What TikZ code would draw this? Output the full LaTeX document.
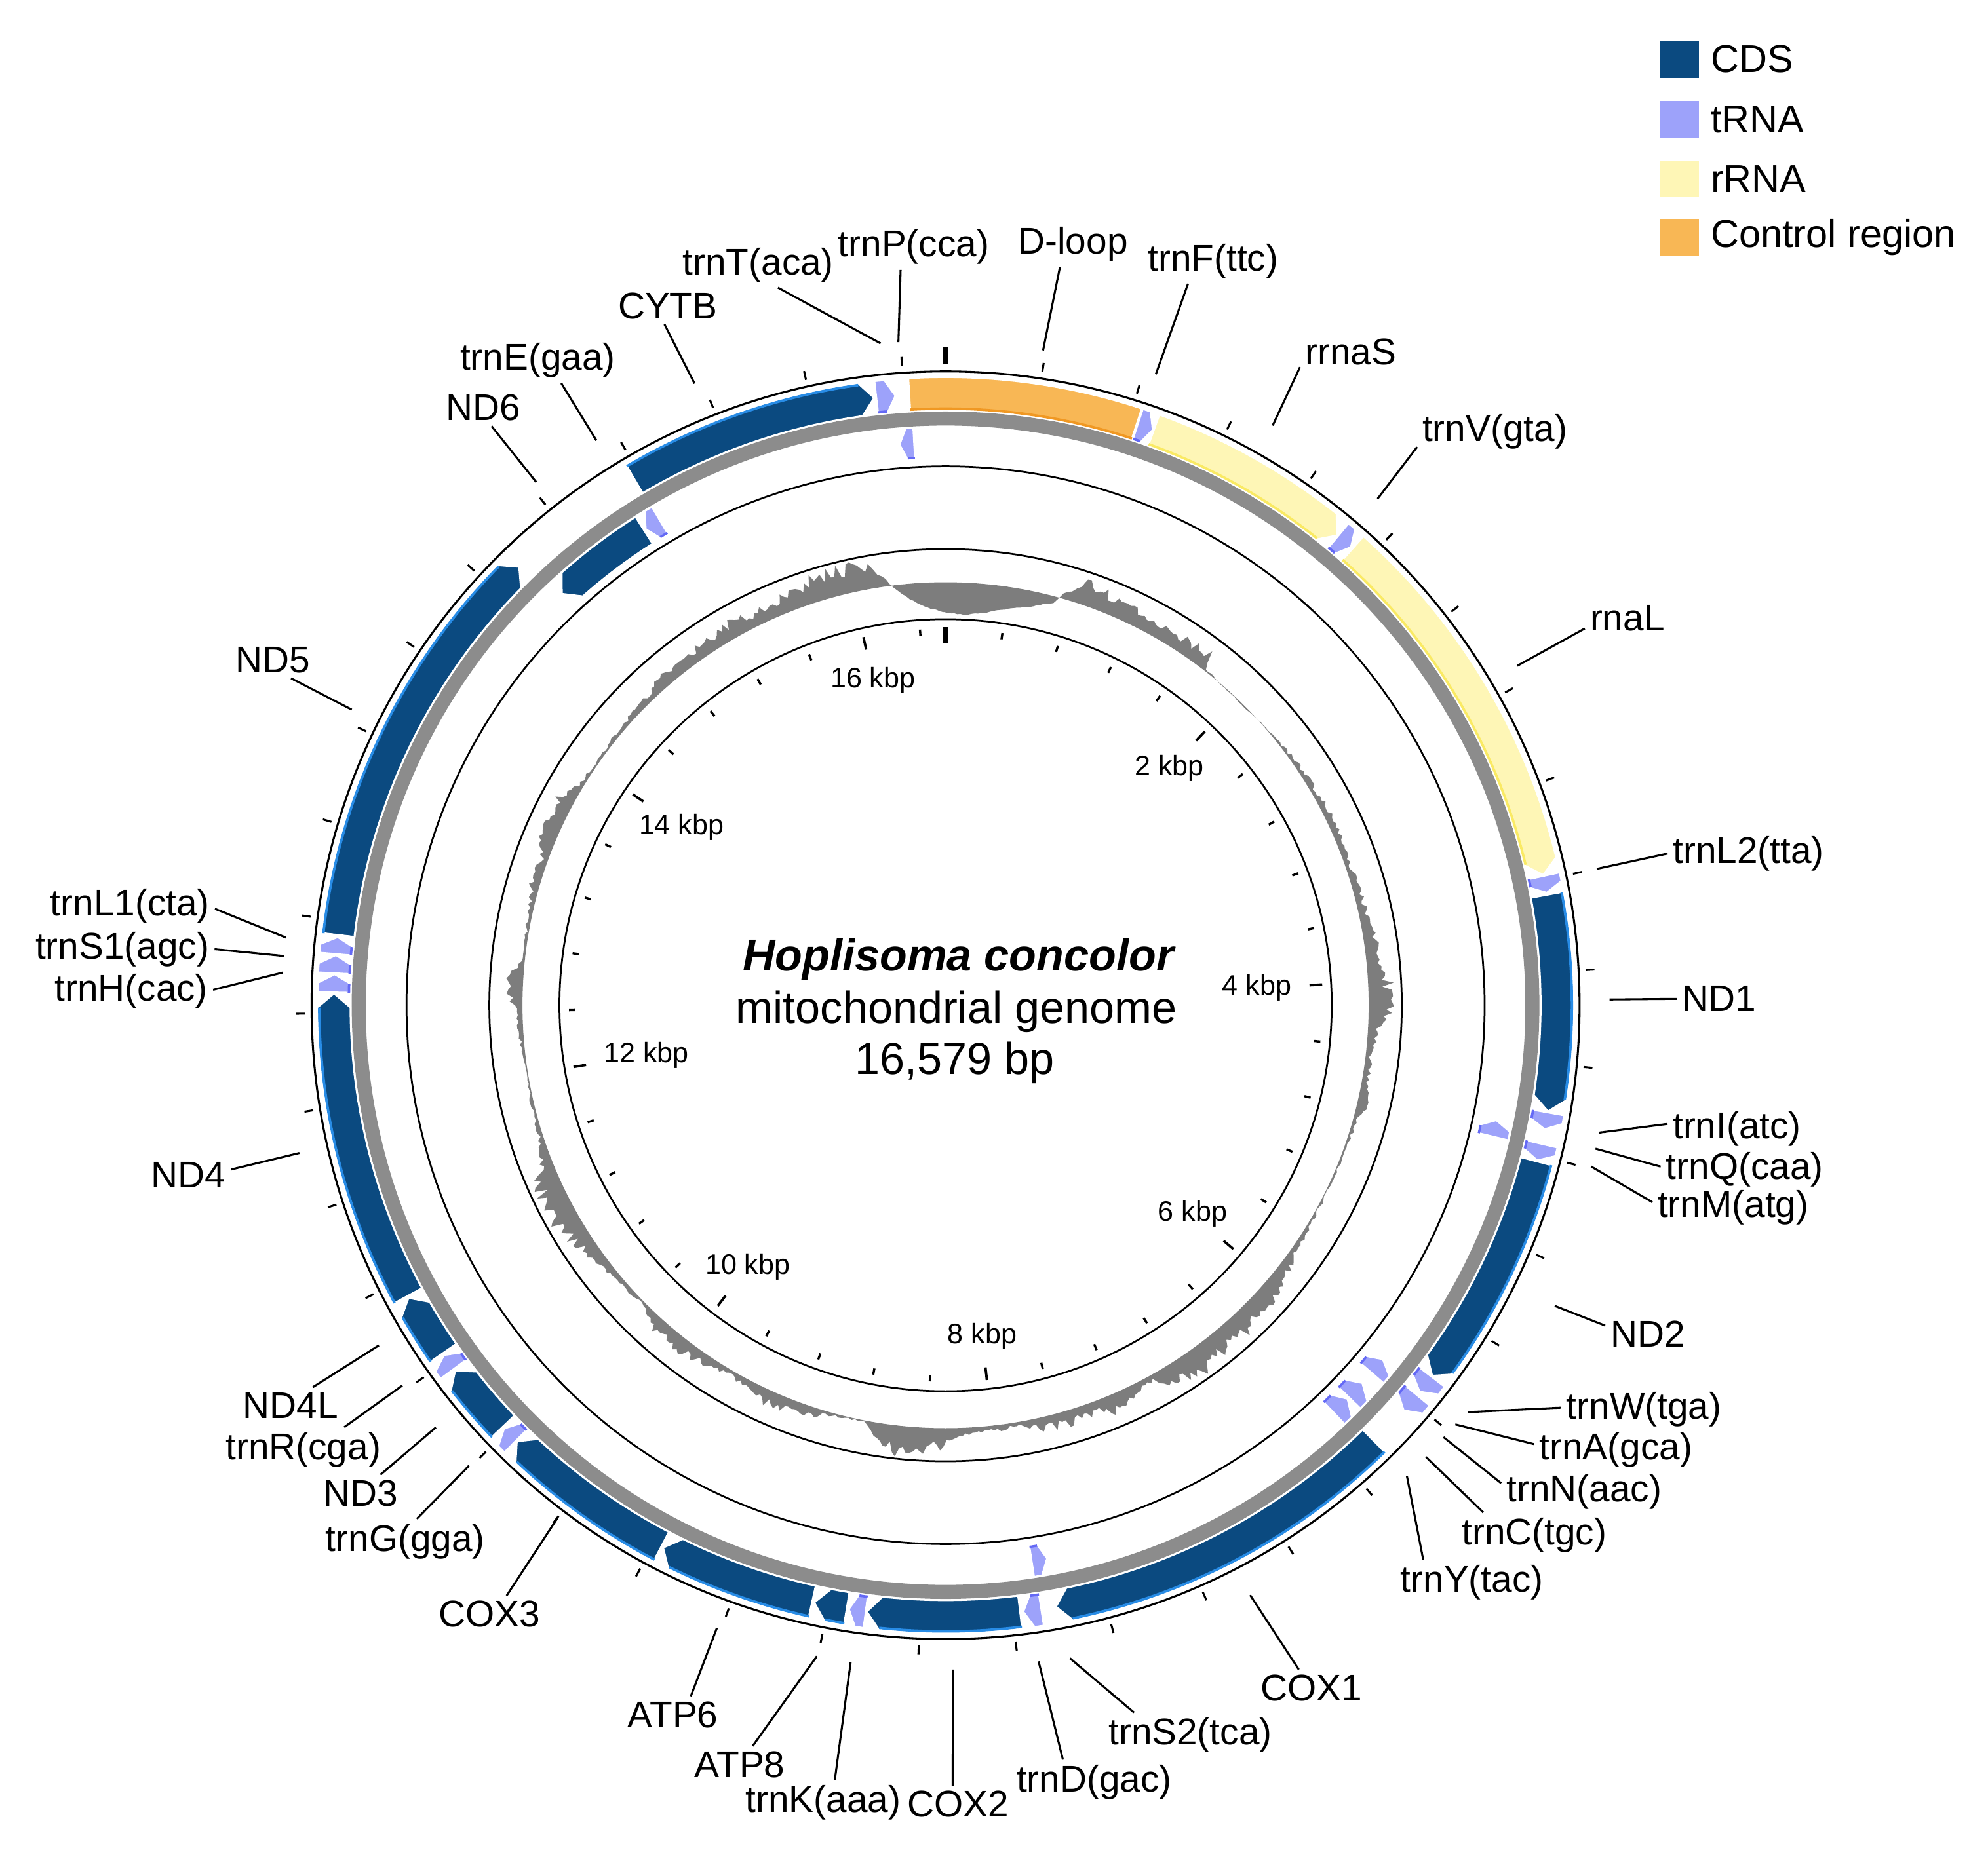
\documentclass[tikz,border=0pt]{standalone}
\usepackage{fontspec}
\setmainfont{Liberation Sans}
\usepackage{xcolor}
\usepackage{tikz}
\usetikzlibrary{positioning}
\definecolor{cds}{RGB}{11,74,128}
\definecolor{cdsedge}{RGB}{40,140,230}
\definecolor{trna}{RGB}{157,162,250}
\definecolor{trnaedge}{RGB}{100,105,245}
\definecolor{rrna}{RGB}{254,246,182}
\definecolor{rrnaedge}{RGB}{250,234,100}
\definecolor{ctrl}{RGB}{248,183,85}
\definecolor{ctrledge}{RGB}{240,152,35}
\definecolor{ring}{RGB}{140,140,140}
\definecolor{gc}{RGB}{125,125,125}

\def\cdsname{cds}
\newcommand{\genearrow}[4]{%
  \edef\thiscol{#1}%
  \edef\edgecol{#1edge}%
  \ifnum#4<0 \def\rin{429}\def\rout{454}\else\def\rin{467}\def\rout{493}\fi
  \pgfmathsetmacro\rmid{(\rin+\rout)/2}%
  \pgfmathsetmacro\hd{(#4==0) ? 0 : min(deg(11/\rmid),0.5*((#3)-(#2)))}%
  \ifnum#4<0
    \pgfmathsetmacro\aT{90-(#2)}%
    \pgfmathsetmacro\aS{90-(#2)-\hd}%
    \pgfmathsetmacro\aE{90-(#3)}%
    \pgfmathsetmacro\re{\rin+1.3}%
    \fill[fill=\thiscol, draw=white, line width=0.4pt] (\aT:\rmid) -- (\aS:\rout) arc[start angle=\aS, end angle=\aE, radius=\rout] -- (\aE:\rin) arc[start angle=\aE, end angle=\aS, radius=\rin] -- cycle;
    \ifx\thiscol\cdsname\else
      \draw[color=\edgecol, line width=0.5pt] (\aS:\re) arc[start angle=\aS, end angle=\aE, radius=\re];
    \fi
  \else
    \pgfmathsetmacro\aS{90-(#2)}%
    \pgfmathsetmacro\aB{90-(#3)+\hd}%
    \pgfmathsetmacro\aE{90-(#3)}%
    \fill[fill=\thiscol, draw=white, line width=0.4pt] (\aS:\rout) arc[start angle=\aS, end angle=\aB, radius=\rout] -- (\aE:\rmid) -- (\aB:\rin) arc[start angle=\aB, end angle=\aS, radius=\rin] -- cycle;
    \ifx\thiscol\cdsname
      \pgfmathsetmacro\re{\rout-1.5}%
    \else
      \pgfmathsetmacro\re{\rin+1.3}%
    \fi
    \draw[color=\edgecol, line width=0.55pt] (\aS:\re) arc[start angle=\aS, end angle=\aB, radius=\re];
  \fi
}

\begin{document}
\begin{tikzpicture}[x=0.01cm, y=0.01cm,
  lbl/.style={font=\fontsize{8.3}{10}\selectfont, inner sep=1pt},
  kbp/.style={font=\fontsize{6.3}{7.5}\selectfont, inner sep=1pt},
  leader/.style={line width=0.45pt},
  legbox/.style={minimum width=0.3cm, minimum height=0.29cm, inner sep=0pt},
  legtext/.style={font=\fontsize{8.7}{10}\selectfont, inner sep=0pt}]

\useasboundingbox (-742,-671.7) rectangle (818,789);

% rings
\draw[line width=0.45pt] (0,0) circle[radius=497.5];
\draw[ring, line width=3.13pt] (0,0) circle[radius=460.5];
\draw[line width=0.4pt] (0,0) circle[radius=423];
\draw[line width=0.4pt] (0,0) circle[radius=358];
\draw[line width=0.4pt] (0,0) circle[radius=303];

% GC content
\pgfmathsetseed{11}
\gdef\gcpath{}
\foreach \p/\v [remember=\p as \pp (initially 0), remember=\v as \vv (initially -24)] in {
  0/-24, 3/-25, 6/-22, 9/-17, 12/-12, 15/-5, 16/4, 17.5/14, 19/21, 21/15, 24/13, 28/11,
  32/10, 35/12, 37/13, 37.8/2, 40/0, 45/-1, 50/1, 55/3, 60/4, 65/6, 70/4, 75/6, 80/7,
  84/12, 88/16, 91/15, 94/6, 97/4, 100/5, 103/8, 106/3, 110/2, 115/1, 120/2, 125/4,
  128/9, 132/14, 136/15, 140/16, 145/18, 149/15, 151/5, 154/7, 157/13, 160/8, 163/10,
  167/9, 170/2, 173/4, 176/3, 179/8, 182/17, 186/21, 189/12, 191/1, 195/2, 200/8,
  205/10, 210/4, 213/6, 218/11, 222/9, 226/2, 230/4, 234/8, 238/15, 242/20, 246/17,
  249/8, 252/3, 258/2, 262/1, 266/3, 270/6, 272/12, 274/10, 276/2, 280/2, 285/5,
  288/9, 290/5, 293/12, 296/14, 299/11, 301/3, 305/2, 310/3, 315/4, 318/8, 322/10,
  326/9, 330/12, 334/10, 338/12, 341/16, 345/19, 349/18, 351/15, 352.5/1, 353.5/-5,
  355/-12, 357/-19, 360/-24}{
  \pgfmathtruncatemacro\n{max(1,round(((\p)-(\pp))/0.45))}
  \foreach \k in {1,...,\n}{
    \pgfmathsetmacro\ang{90-((\pp)+((\p)-(\pp))*\k/\n)}
    \pgfmathsetmacro\amp{(\vv)+((\v)-(\vv))*\k/\n}
    \pgfmathsetmacro\rr{332+(\amp)+(rnd-0.5)*((\amp>0) ? (0.6*\amp+1) : 0.8)}
    \xdef\gcpath{\gcpath -- (\ang:\rr)}
  }
}
\fill[gc, even odd rule] (90:308) \gcpath -- cycle (0,0) circle[radius=332];

% ticks
\foreach \k in {1,...,41}{
  \pgfmathsetmacro\a{90-\k*0.4/16.579*360}
  \pgfmathtruncatemacro\m{mod(\k,5)}
  \draw[line width=0.45pt] (\a:503) -- (\a:510);
  \ifnum\m=0
    \draw[line width=0.55pt] (\a:286) -- (\a:296);
  \else
    \draw[line width=0.5pt] (\a:290.5) -- (\a:295.5);
  \fi
}
\draw[line width=1.1pt] (90:503) -- (90:517);
\draw[line width=1.1pt] (90:284) -- (90:297);
\foreach \kb in {2,4,...,16}{
  \pgfmathsetmacro\a{90-\kb/16.579*360}
  \pgfmathsetmacro\b{mod(\a+360,360)}
  \node[kbp, anchor=\b] (kb\kb) at (\a:276) {\kb\ kbp};
}

% genes
\foreach \col/\s/\e/\d in {
  ctrl/-3.4/18.2/0, trna/18.3/19.8/1, rrna/19.9/39.8/1, trna/39.9/41.5/1,
  rrna/41.7/77.7/1, trna/77.8/79.4/1, cds/79.6/100.0/1, trna/100.1/101.7/1,
  trna/101.8/103.5/-1, trna/103.1/104.7/1, cds/104.8/127.3/1, trna/127.4/129.2/1,
  trna/129.6/131.5/1, trna/129.0/130.8/-1, trna/132.2/134.2/-1, trna/134.4/136.4/-1,
  cds/135.5/169.6/1, trna/169.6/171.2/-1, trna/171.0/172.7/1, cds/173.0/187.4/1,
  trna/187.5/189.1/1, cds/189.3/192.4/1, cds/192.6/207.5/1, cds/207.7/224.5/1,
  trna/224.6/226.2/1, cds/226.4/233.3/1, trna/233.5/235.1/1, cds/235.3/241.4/1,
  cds/241.6/271.1/1, trna/271.2/272.9/1, trna/273.0/274.7/1, trna/274.8/276.4/1,
  cds/276.6/315.8/1, cds/317.0/327.6/-1, trna/327.8/329.5/-1, cds/329.4/353.3/1,
  trna/353.5/355.3/1, trna/355.3/356.8/-1}{
  \genearrow{\col}{\s}{\e}{\d}
}

% labels
\foreach \nm/\txt/\lx/\ly/\tx/\ty/\an in {
  trnT/trnT(aca)/-147/581/-51/519.5/311,
  trnP/trnP(cca)/-25/595/-37/520.4/240,
  dloop/D-loop/100/597/76.5/514/240,
  trnF/trnF(ttc)/210/584/165/495.3/222,
  rrnaS/rrnaS/318/513/256.7/455/197,
  trnV/trnV(gta)/431/450/339/397.5/191,
  rnaL/rnaL/535/304/448.6/266.4/194,
  trnL2/trnL2(tta)/630/119/511/107/180,
  ND1/ND1/607/5/521/4.5/180,
  trnI/trnI(atc)/621/-97/513/-100/176,
  trnQ/trnQ(caa)/627/-129/510/-112.6/178,
  trnM/trnM(atg)/618/-159/506.6/-126.6/176,
  ND2/ND2/551/-258/478/-236/169,
  trnW/trnW(tga)/548/-317/410/-319.4/179,
  trnA/trnA(gca)/526/-349/400/-329/176,
  trnN/trnN(aac)/501/-382/390.7/-339/174,
  trnC/trnC(tgc)/462/-416/377/-354.6/156,
  trnY/trnY(tac)/413/-453/362/-369.5/155,
  COX1/COX1/287/-536/239/-463/124,
  trnS2/trnS2(tca)/192/-573/97.6/-512.6/158,
  trnD/trnD(gac)/116.6/-610/73/-515/144,
  COX2/COX2/10/-627/5.8/-521.5/107,
  trnK/trnK(aaa)/-96/-626/-74.5/-516/63,
  ATP8/ATP8/-161.5/-596/-101/-511/55,
  ATP6/ATP6/-214/-557/-179.5/-489/46,
  COX3/COX3/-358/-478/-304.2/-402/47,
  trnG/trnG(gga)/-424/-421/-374/-361.5/63,
  ND3/ND3/-459/-383/-400/-331.4/43,
  trnR/trnR(cga)/-504/-349/-426.3/-298.5/29,
  ND4L/ND4L/-514/-314/-444.7/-267/39,
  ND4/ND4/-594/-133/-507/-116/7,
  trnH/trnH(cac)/-639/11/-520.2/25.6/1,
  trnS1/trnS1(agc)/-646/44/-519/38.6/0,
  trnL1/trnL1(cta)/-640/78/-517.6/53.1/358,
  ND5/ND5/-528/271/-466/232/315,
  ND6/ND6/-363/469/-321.2/410.6/295,
  trnE/trnE(gaa)/-320/506/-274/443.3/316,
  CYTB/CYTB/-218/549/-197/488/260}{
  \node[lbl] (\nm) at (\lx,\ly) {\txt};
  \coordinate (\nm-t) at (\tx,\ty);
  \draw[leader] (\nm-t) -- (\nm.\an);
}

% centre
\node[font=\fontsize{10}{12}\selectfont\bfseries\itshape, anchor=base] (species) at (10,27) {Hoplisoma concolor};
\node[font=\fontsize{10}{12}\selectfont, anchor=base] (genome) at (8.5,-14) {mitochondrial genome};
\node[font=\fontsize{10}{12}\selectfont, anchor=base] (length) at (7,-54) {16,579 bp};

% legend
\node[legbox, fill=cds] (leg-cds) at (576,742.5) {};
\node[legtext, right=2.3pt of leg-cds] (leg-cds-t) {CDS};
\node[legbox, fill=trna] (leg-trna) at (576,695.5) {};
\node[legtext, right=2.3pt of leg-trna] (leg-trna-t) {tRNA};
\node[legbox, fill=rrna] (leg-rrna) at (576,648.5) {};
\node[legtext, right=2.3pt of leg-rrna] (leg-rrna-t) {rRNA};
\node[legbox, fill=ctrl] (leg-ctrl) at (576,602.5) {};
\node[legtext, right=2.3pt of leg-ctrl] (leg-ctrl-t) {Control region};
\end{tikzpicture}
\end{document}
